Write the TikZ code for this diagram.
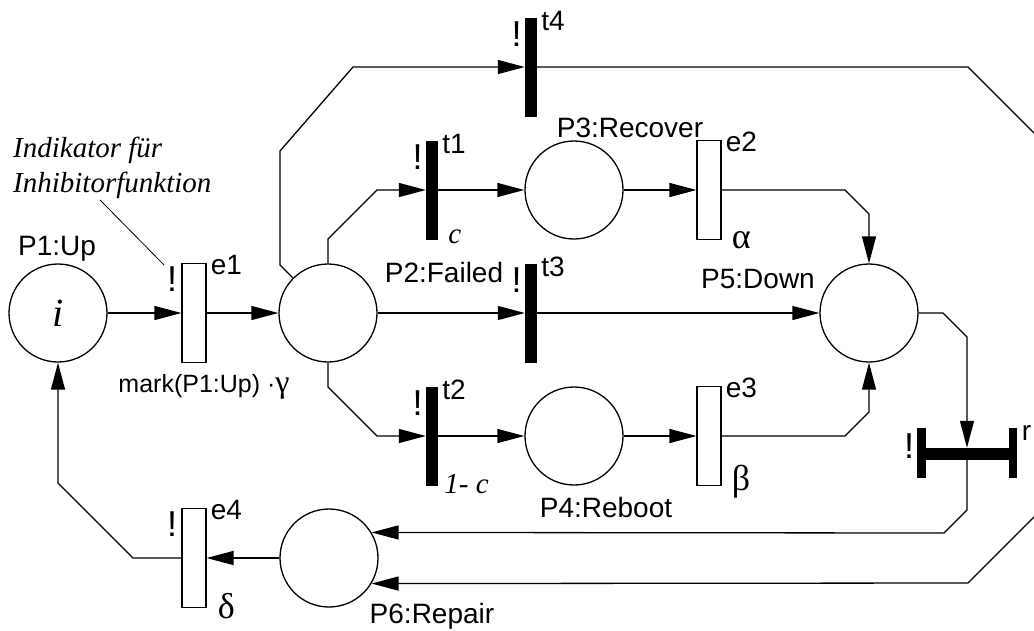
\documentclass[tikz,border=0pt]{standalone}
\usepackage{fontspec}
\setmainfont{Liberation Serif}
\setsansfont{Liberation Sans}
\usepackage{tikz}
\usetikzlibrary{arrows.meta,calc}
\definecolor{ink}{HTML}{000000}
\definecolor{paper}{HTML}{FFFFFF}
\tikzset{
  place/.style={circle,draw=ink,fill=paper,line width=1.3pt,minimum size=98pt,inner sep=0pt},
  timedtr/.style={rectangle,draw=ink,fill=paper,line width=1.1pt,minimum width=24pt,minimum height=99pt,inner sep=0pt},
  immtr/.style={rectangle,fill=ink,minimum width=12pt,minimum height=99pt,inner sep=0pt},
  flowarr/.style={-{Triangle[length=27pt,width=14pt]},line width=1.3pt,color=ink},
  thinline/.style={line width=0.8pt,color=ink},
  lab/.style={font=\sffamily\fontsize{28}{32}\selectfont,inner sep=0pt},
  bang/.style={font=\sffamily\fontsize{36}{40}\selectfont,inner sep=0pt},
  ratelab/.style={font=\sffamily\fontsize{25}{30}\selectfont,inner sep=0pt},
  greek/.style={font=\rmfamily\fontsize{36}{40}\selectfont,inner sep=0pt},
  itlab/.style={font=\rmfamily\itshape\fontsize{29}{35}\selectfont,inner sep=0pt}
}
\begin{document}
\begin{tikzpicture}[x=1pt,y=-1pt]
  \useasboundingbox (0,0) rectangle (1034,630);
  \clip (0,0) rectangle (1034,630);
  \fill[paper] (0,0) rectangle (1034,630);

  % places
  \node[place,font=\rmfamily\itshape\fontsize{40}{44}\selectfont] (P1) at (58,313) {i};
  \node[place] (P2) at (328,313) {};
  \node[place] (P3) at (574,190) {};
  \node[place] (P4) at (574,436) {};
  \node[place] (P5) at (869,313) {};
  \node[place] (P6) at (329,558) {};

  % transitions
  \node[timedtr] (e1) at (194,313) {};
  \node[timedtr] (e2) at (709,190) {};
  \node[timedtr] (e3) at (709,436) {};
  \node[timedtr] (e4) at (194,558) {};
  \node[immtr] (t1) at (432,190) {};
  \node[immtr] (t2) at (432,436) {};
  \node[immtr] (t3) at (531,313) {};
  \node[immtr] (t4) at (531,67) {};
  \node[fill=ink,minimum width=99pt,minimum height=12pt,inner sep=0pt] (r) at (967,454) {};
  \fill[ink] (r.west) ++(0,-26) rectangle ++(9,50);
  \fill[ink] (r.east) ++(-8,-26) rectangle ++(8,50);

  % labels
  \foreach \n in {e1,e2,e3,e4}
    \node[lab,anchor=base west] (l\n) at ($(\n.north east)+(4,12)$) {\n};
  \foreach \n in {t1,t2,t3,t4}{
    \node[lab,anchor=base west] (l\n) at ($(\n.north east)+(4,13)$) {\n};
    \node[bang,anchor=base east] (x\n) at ($(\n.north west)+(-3,29)$) {!};
  }
  \node[bang,anchor=base east] (xe1) at ($(e1.north west)+(-4,29)$) {!};
  \node[bang,anchor=base east] (xe4) at ($(e4.north west)+(-4,29)$) {!};
  \node[bang,anchor=base east] (xr) at ($(r.west)+(-3,4)$) {!};
  \node[lab,anchor=base west] (lr) at ($(r.east)+(5,-14)$) {r};

  \node[lab,anchor=base] (nP1) at (57,255) {P1:Up};
  \node[lab,anchor=base] (nP2) at (444,282) {P2:Failed};
  \node[lab,anchor=base] (nP3) at (630,137) {P3:Recover};
  \node[lab,anchor=base] (nP4) at (606,517) {P4:Reboot};
  \node[lab,anchor=base] (nP5) at (758,288) {P5:Down};
  \node[lab,anchor=base] (nP6) at (432,623) {P6:Repair};

  \node[itlab,anchor=base west] (ct1) at ($(t1.south east)+(10,4)$) {c};
  \node[itlab,anchor=base west] (ct2) at ($(t2.south east)+(6,8)$) {1- c};
  \node[greek,anchor=base west] (ge2) at ($(e2.south east)+(10,8)$) {α};
  \node[greek,anchor=base west] (ge3) at ($(e3.south east)+(10,4)$) {β};
  \node[greek,anchor=base west] (ge4) at ($(e4.south east)+(11,10)$) {δ};
  \node[ratelab,anchor=base] (ge1) at (204,392) {mark(P1:Up) ·{\rmfamily\fontsize{32}{34}\selectfont γ}};

  \node[itlab,anchor=base west,align=left] (ind) at (13,192) {Indikator für\\Inhibitorfunktion};
  \coordinate (indA) at (100,200);
  \draw[thinline] (indA) -- ($(xe1.north west)+(-3,-2)$);

  % arcs
  \draw[flowarr] (P1) -- (e1);
  \draw[flowarr] (e1) -- (P2);
  \draw[flowarr] (P2) -- (t3);
  \draw[flowarr] (t3) -- (P5);
  \draw[flowarr] (P2.north) -- (328,239) -- (377,190) -- (t1);
  \draw[flowarr] (t1) -- (P3);
  \draw[flowarr] (P3) -- (e2);
  \draw[flowarr] (e2.east) -- (845,190) -- (869,214) -- (P5);
  \draw[flowarr] (P2.south) -- (328,387) -- (377,436) -- (t2);
  \draw[flowarr] (t2) -- (P4);
  \draw[flowarr] (P4) -- (e3);
  \draw[flowarr] (e3.east) -- (845,436) -- (869,412) -- (P5);
  \draw[flowarr] (P2.135) -- (280,265) -- (280,151) -- (353,67) -- (t4);
  \draw[flowarr] (P5.east) -- (943,313) -- (967,337) -- (r.north);
  \draw[flowarr] (r.south) -- (967,510) -- (944,533) -- (P6.31);
  \draw[flowarr] (t4) -- (968,67) -- (1040,139) -- (1040,511) -- (968,583) -- (P6.-31);
  \draw[flowarr] (P6) -- (e4);
  \draw[flowarr] (e4.west) -- (133,558) -- (58,483) -- (P1);
\end{tikzpicture}
\end{document}
